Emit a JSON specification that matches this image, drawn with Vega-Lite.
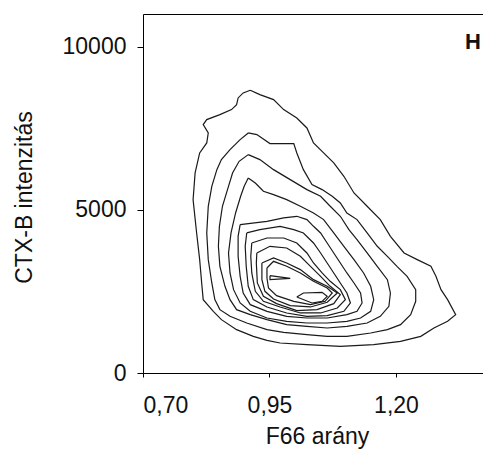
{
  "$schema": "https://vega.github.io/schema/vega-lite/v6.json",
  "width": 340,
  "height": 359,
  "autosize": {"type": "none"},
  "padding": {"left": 143, "top": 14, "right": 0, "bottom": 81},
  "background": "white",
  "config": {
    "view": {"stroke": null},
    "axis": {
      "grid": false,
      "domainColor": "#000",
      "domainWidth": 1,
      "tickColor": "#000",
      "tickWidth": 1,
      "labelColor": "#111",
      "labelFont": "Liberation Sans",
      "labelFontSize": 23,
      "titleFont": "Liberation Sans",
      "titleFontSize": 23,
      "titleFontWeight": "normal",
      "titleColor": "#111"
    }
  },
  "datasets": {
    "contours": [
      {"c":1,"i":0,"x":0.912,"y":8671},{"c":1,"i":1,"x":0.931,"y":8538},{"c":1,"i":2,"x":0.958,"y":8385},{"c":1,"i":3,"x":0.978,"y":8078},{"c":1,"i":4,"x":1.004,"y":7822},{"c":1,"i":5,"x":1.024,"y":7515},{"c":1,"i":6,"x":1.037,"y":7055},{"c":1,"i":7,"x":1.057,"y":6749},{"c":1,"i":8,"x":1.077,"y":6442},{"c":1,"i":9,"x":1.097,"y":6033},{"c":1,"i":10,"x":1.117,"y":5522},{"c":1,"i":11,"x":1.143,"y":5113},{"c":1,"i":12,"x":1.169,"y":4704},{"c":1,"i":13,"x":1.189,"y":4192},{"c":1,"i":14,"x":1.216,"y":3681},{"c":1,"i":15,"x":1.242,"y":3477},{"c":1,"i":16,"x":1.269,"y":3272},{"c":1,"i":17,"x":1.279,"y":2965},{"c":1,"i":18,"x":1.289,"y":2556},{"c":1,"i":19,"x":1.302,"y":2250},{"c":1,"i":20,"x":1.318,"y":1789},{"c":1,"i":21,"x":1.302,"y":1585},{"c":1,"i":22,"x":1.275,"y":1380},{"c":1,"i":23,"x":1.249,"y":1125},{"c":1,"i":24,"x":1.209,"y":971},{"c":1,"i":25,"x":1.156,"y":869},{"c":1,"i":26,"x":1.090,"y":818},{"c":1,"i":27,"x":1.024,"y":869},{"c":1,"i":28,"x":0.971,"y":920},{"c":1,"i":29,"x":0.945,"y":1002},{"c":1,"i":30,"x":0.918,"y":1125},{"c":1,"i":31,"x":0.885,"y":1329},{"c":1,"i":32,"x":0.855,"y":1636},{"c":1,"i":33,"x":0.839,"y":1892},{"c":1,"i":34,"x":0.819,"y":2250},{"c":1,"i":35,"x":0.816,"y":2761},{"c":1,"i":36,"x":0.812,"y":3477},{"c":1,"i":37,"x":0.806,"y":4295},{"c":1,"i":38,"x":0.799,"y":5317},{"c":1,"i":39,"x":0.803,"y":6135},{"c":1,"i":40,"x":0.812,"y":6749},{"c":1,"i":41,"x":0.826,"y":7055},{"c":1,"i":42,"x":0.829,"y":7362},{"c":1,"i":43,"x":0.819,"y":7618},{"c":1,"i":44,"x":0.826,"y":7771},{"c":1,"i":45,"x":0.852,"y":7924},{"c":1,"i":46,"x":0.875,"y":8078},{"c":1,"i":47,"x":0.885,"y":8231},{"c":1,"i":48,"x":0.888,"y":8436},{"c":1,"i":49,"x":0.898,"y":8589},{"c":1,"i":50,"x":0.912,"y":8671},
      {"c":2,"i":0,"x":0.908,"y":7362},{"c":2,"i":1,"x":0.925,"y":7311},{"c":2,"i":2,"x":0.951,"y":7035},{"c":2,"i":3,"x":0.998,"y":7035},{"c":2,"i":4,"x":1.004,"y":6749},{"c":2,"i":5,"x":1.017,"y":6237},{"c":2,"i":6,"x":1.034,"y":5777},{"c":2,"i":7,"x":1.054,"y":5624},{"c":2,"i":8,"x":1.074,"y":5419},{"c":2,"i":9,"x":1.090,"y":5215},{"c":2,"i":10,"x":1.103,"y":4908},{"c":2,"i":11,"x":1.123,"y":4704},{"c":2,"i":12,"x":1.143,"y":4295},{"c":2,"i":13,"x":1.163,"y":3886},{"c":2,"i":14,"x":1.183,"y":3579},{"c":2,"i":15,"x":1.202,"y":3272},{"c":2,"i":16,"x":1.222,"y":2965},{"c":2,"i":17,"x":1.239,"y":2556},{"c":2,"i":18,"x":1.239,"y":2198},{"c":2,"i":19,"x":1.229,"y":1789},{"c":2,"i":20,"x":1.209,"y":1483},{"c":2,"i":21,"x":1.183,"y":1329},{"c":2,"i":22,"x":1.150,"y":1227},{"c":2,"i":23,"x":1.103,"y":1125},{"c":2,"i":24,"x":1.064,"y":1125},{"c":2,"i":25,"x":1.024,"y":1176},{"c":2,"i":26,"x":0.978,"y":1247},{"c":2,"i":27,"x":0.945,"y":1329},{"c":2,"i":28,"x":0.905,"y":1534},{"c":2,"i":29,"x":0.872,"y":1738},{"c":2,"i":30,"x":0.852,"y":1943},{"c":2,"i":31,"x":0.842,"y":2250},{"c":2,"i":32,"x":0.836,"y":2761},{"c":2,"i":33,"x":0.829,"y":3477},{"c":2,"i":34,"x":0.826,"y":4295},{"c":2,"i":35,"x":0.829,"y":5113},{"c":2,"i":36,"x":0.836,"y":5726},{"c":2,"i":37,"x":0.846,"y":6237},{"c":2,"i":38,"x":0.855,"y":6544},{"c":2,"i":39,"x":0.872,"y":6851},{"c":2,"i":40,"x":0.892,"y":7158},{"c":2,"i":41,"x":0.908,"y":7362},
      {"c":3,"i":0,"x":0.908,"y":6697},{"c":3,"i":1,"x":0.931,"y":6544},{"c":3,"i":2,"x":0.958,"y":6237},{"c":3,"i":3,"x":0.991,"y":5931},{"c":3,"i":4,"x":1.024,"y":5624},{"c":3,"i":5,"x":1.051,"y":5419},{"c":3,"i":6,"x":1.070,"y":5113},{"c":3,"i":7,"x":1.090,"y":4806},{"c":3,"i":8,"x":1.107,"y":4397},{"c":3,"i":9,"x":1.123,"y":4090},{"c":3,"i":10,"x":1.143,"y":3681},{"c":3,"i":11,"x":1.163,"y":3272},{"c":3,"i":12,"x":1.183,"y":2863},{"c":3,"i":13,"x":1.189,"y":2454},{"c":3,"i":14,"x":1.186,"y":2045},{"c":3,"i":15,"x":1.169,"y":1738},{"c":3,"i":16,"x":1.143,"y":1534},{"c":3,"i":17,"x":1.103,"y":1432},{"c":3,"i":18,"x":1.064,"y":1380},{"c":3,"i":19,"x":1.024,"y":1432},{"c":3,"i":20,"x":0.984,"y":1483},{"c":3,"i":21,"x":0.945,"y":1636},{"c":3,"i":22,"x":0.912,"y":1789},{"c":3,"i":23,"x":0.885,"y":1943},{"c":3,"i":24,"x":0.872,"y":2250},{"c":3,"i":25,"x":0.862,"y":2659},{"c":3,"i":26,"x":0.852,"y":3272},{"c":3,"i":27,"x":0.849,"y":3886},{"c":3,"i":28,"x":0.851,"y":4499},{"c":3,"i":29,"x":0.857,"y":5113},{"c":3,"i":30,"x":0.867,"y":5624},{"c":3,"i":31,"x":0.877,"y":6135},{"c":3,"i":32,"x":0.890,"y":6493},{"c":3,"i":33,"x":0.908,"y":6697},
      {"c":4,"i":0,"x":0.908,"y":5982},{"c":4,"i":1,"x":0.922,"y":5828},{"c":4,"i":2,"x":0.938,"y":5573},{"c":4,"i":3,"x":0.958,"y":5470},{"c":4,"i":4,"x":0.984,"y":5317},{"c":4,"i":5,"x":1.011,"y":5113},{"c":4,"i":6,"x":1.037,"y":4908},{"c":4,"i":7,"x":1.057,"y":4704},{"c":4,"i":8,"x":1.077,"y":4295},{"c":4,"i":9,"x":1.097,"y":3886},{"c":4,"i":10,"x":1.117,"y":3477},{"c":4,"i":11,"x":1.136,"y":3068},{"c":4,"i":12,"x":1.150,"y":2659},{"c":4,"i":13,"x":1.156,"y":2250},{"c":4,"i":14,"x":1.150,"y":1892},{"c":4,"i":15,"x":1.130,"y":1687},{"c":4,"i":16,"x":1.103,"y":1585},{"c":4,"i":17,"x":1.064,"y":1534},{"c":4,"i":18,"x":1.024,"y":1534},{"c":4,"i":19,"x":0.984,"y":1585},{"c":4,"i":20,"x":0.945,"y":1687},{"c":4,"i":21,"x":0.912,"y":1892},{"c":4,"i":22,"x":0.892,"y":2147},{"c":4,"i":23,"x":0.879,"y":2556},{"c":4,"i":24,"x":0.872,"y":3068},{"c":4,"i":25,"x":0.869,"y":3681},{"c":4,"i":26,"x":0.874,"y":4295},{"c":4,"i":27,"x":0.883,"y":4908},{"c":4,"i":28,"x":0.893,"y":5419},{"c":4,"i":29,"x":0.900,"y":5726},{"c":4,"i":30,"x":0.908,"y":5982},
      {"c":5,"i":0,"x":0.892,"y":4550},{"c":5,"i":1,"x":0.945,"y":4652},{"c":5,"i":2,"x":0.978,"y":4755},{"c":5,"i":3,"x":1.004,"y":4806},{"c":5,"i":4,"x":1.024,"y":4704},{"c":5,"i":5,"x":1.037,"y":4499},{"c":5,"i":6,"x":1.051,"y":4295},{"c":5,"i":7,"x":1.064,"y":3988},{"c":5,"i":8,"x":1.077,"y":3681},{"c":5,"i":9,"x":1.090,"y":3374},{"c":5,"i":10,"x":1.103,"y":3068},{"c":5,"i":11,"x":1.117,"y":2761},{"c":5,"i":12,"x":1.130,"y":2454},{"c":5,"i":13,"x":1.133,"y":2147},{"c":5,"i":14,"x":1.123,"y":1892},{"c":5,"i":15,"x":1.103,"y":1789},{"c":5,"i":16,"x":1.064,"y":1687},{"c":5,"i":17,"x":1.024,"y":1687},{"c":5,"i":18,"x":0.984,"y":1738},{"c":5,"i":19,"x":0.945,"y":1892},{"c":5,"i":20,"x":0.912,"y":2096},{"c":5,"i":21,"x":0.898,"y":2454},{"c":5,"i":22,"x":0.892,"y":2965},{"c":5,"i":23,"x":0.888,"y":3579},{"c":5,"i":24,"x":0.888,"y":4192},{"c":5,"i":25,"x":0.892,"y":4550},
      {"c":6,"i":0,"x":0.905,"y":4295},{"c":6,"i":1,"x":0.931,"y":4397},{"c":6,"i":2,"x":0.971,"y":4499},{"c":6,"i":3,"x":0.998,"y":4397},{"c":6,"i":4,"x":1.017,"y":4295},{"c":6,"i":5,"x":1.037,"y":3988},{"c":6,"i":6,"x":1.051,"y":3681},{"c":6,"i":7,"x":1.064,"y":3374},{"c":6,"i":8,"x":1.077,"y":3068},{"c":6,"i":9,"x":1.090,"y":2761},{"c":6,"i":10,"x":1.103,"y":2454},{"c":6,"i":11,"x":1.110,"y":2147},{"c":6,"i":12,"x":1.097,"y":1892},{"c":6,"i":13,"x":1.064,"y":1759},{"c":6,"i":14,"x":1.024,"y":1738},{"c":6,"i":15,"x":0.984,"y":1841},{"c":6,"i":16,"x":0.945,"y":2025},{"c":6,"i":17,"x":0.918,"y":2250},{"c":6,"i":18,"x":0.908,"y":2659},{"c":6,"i":19,"x":0.904,"y":3272},{"c":6,"i":20,"x":0.902,"y":3886},{"c":6,"i":21,"x":0.905,"y":4295},
      {"c":7,"i":0,"x":0.915,"y":3988},{"c":7,"i":1,"x":0.945,"y":4141},{"c":7,"i":2,"x":0.978,"y":4141},{"c":7,"i":3,"x":1.004,"y":3988},{"c":7,"i":4,"x":1.024,"y":3681},{"c":7,"i":5,"x":1.037,"y":3374},{"c":7,"i":6,"x":1.054,"y":3068},{"c":7,"i":7,"x":1.070,"y":2812},{"c":7,"i":8,"x":1.090,"y":2556},{"c":7,"i":9,"x":1.100,"y":2250},{"c":7,"i":10,"x":1.084,"y":1994},{"c":7,"i":11,"x":1.051,"y":1841},{"c":7,"i":12,"x":1.011,"y":1841},{"c":7,"i":13,"x":0.971,"y":2025},{"c":7,"i":14,"x":0.938,"y":2198},{"c":7,"i":15,"x":0.922,"y":2505},{"c":7,"i":16,"x":0.915,"y":3068},{"c":7,"i":17,"x":0.913,"y":3579},{"c":7,"i":18,"x":0.915,"y":3988},
      {"c":8,"i":0,"x":0.925,"y":3681},{"c":8,"i":1,"x":0.951,"y":3886},{"c":8,"i":2,"x":0.984,"y":3834},{"c":8,"i":3,"x":1.011,"y":3579},{"c":8,"i":4,"x":1.031,"y":3272},{"c":8,"i":5,"x":1.051,"y":2965},{"c":8,"i":6,"x":1.070,"y":2659},{"c":8,"i":7,"x":1.090,"y":2403},{"c":8,"i":8,"x":1.077,"y":2127},{"c":8,"i":9,"x":1.044,"y":1943},{"c":8,"i":10,"x":1.004,"y":1912},{"c":8,"i":11,"x":0.964,"y":2127},{"c":8,"i":12,"x":0.938,"y":2352},{"c":8,"i":13,"x":0.926,"y":2761},{"c":8,"i":14,"x":0.924,"y":3374},{"c":8,"i":15,"x":0.925,"y":3681},
      {"c":9,"i":0,"x":0.935,"y":3374},{"c":9,"i":1,"x":0.958,"y":3528},{"c":9,"i":2,"x":0.984,"y":3374},{"c":9,"i":3,"x":1.011,"y":3170},{"c":9,"i":4,"x":1.037,"y":2863},{"c":9,"i":5,"x":1.064,"y":2659},{"c":9,"i":6,"x":1.084,"y":2454},{"c":9,"i":7,"x":1.064,"y":2168},{"c":9,"i":8,"x":1.031,"y":2025},{"c":9,"i":9,"x":0.991,"y":2065},{"c":9,"i":10,"x":0.958,"y":2270},{"c":9,"i":11,"x":0.941,"y":2505},{"c":9,"i":12,"x":0.935,"y":2863},{"c":9,"i":13,"x":0.935,"y":3374},
      {"c":10,"i":0,"x":0.945,"y":3221},{"c":10,"i":1,"x":0.958,"y":3425},{"c":10,"i":2,"x":0.984,"y":3272},{"c":10,"i":3,"x":1.011,"y":3068},{"c":10,"i":4,"x":1.037,"y":2812},{"c":10,"i":5,"x":1.064,"y":2607},{"c":10,"i":6,"x":1.074,"y":2454},{"c":10,"i":7,"x":1.060,"y":2198},{"c":10,"i":8,"x":1.031,"y":2096},{"c":10,"i":9,"x":0.998,"y":2198},{"c":10,"i":10,"x":0.964,"y":2372},{"c":10,"i":11,"x":0.948,"y":2607},{"c":10,"i":12,"x":0.945,"y":2914},{"c":10,"i":13,"x":0.945,"y":3221},
      {"c":11,"i":0,"x":0.951,"y":2986},{"c":11,"i":1,"x":0.991,"y":2904},{"c":11,"i":2,"x":0.951,"y":2863},{"c":11,"i":3,"x":0.951,"y":2986},
      {"c":12,"i":0,"x":1.004,"y":2331},{"c":12,"i":1,"x":1.017,"y":2454},{"c":12,"i":2,"x":1.054,"y":2474},{"c":12,"i":3,"x":1.064,"y":2352},{"c":12,"i":4,"x":1.054,"y":2198},{"c":12,"i":5,"x":1.034,"y":2147},{"c":12,"i":6,"x":1.004,"y":2331}
    ],
    "panel": [{"label": "H", "x": 1.352, "y": 9950}]
  },
  "encoding": {
    "y": {
      "field": "y",
      "type": "quantitative",
      "scale": {"domain": [0, 11010], "nice": false, "zero": false},
      "axis": {
        "title": "CTX-B intenzitás",
        "values": [0, 5000, 10000],
        "format": "d",
        "tickSize": 6,
        "labelPadding": 11,
        "titleAngle": -90,
        "titleAlign": "center",
        "titleBaseline": "bottom",
        "titleX": -107,
        "titleY": 183
      }
    }
  },
  "layer": [
    {
      "data": {"name": "contours"},
      "mark": {"type": "line", "stroke": "#1a1a1a", "strokeWidth": 1.2, "interpolate": "linear"},
      "encoding": {
        "x": {
          "field": "x",
          "type": "quantitative",
          "scale": {"domain": [0.7, 1.372], "nice": false, "zero": false},
          "axis": {
            "title": "F66 arány",
            "values": [0.7, 0.95, 1.2],
            "labelExpr": "replace(format(datum.value, '.2f'), '.', ',')",
            "tickSize": 4,
            "labelBaseline": "alphabetic",
            "labelPadding": 35,
            "titleX": 174,
            "titleY": 70,
            "titleAlign": "center",
            "titleBaseline": "alphabetic"
          }
        },
        "detail": {"field": "c", "type": "nominal"},
        "order": {"field": "i", "type": "quantitative"}
      }
    },
    {
      "data": {"name": "panel"},
      "mark": {"type": "text", "font": "Liberation Sans", "fontSize": 22, "fontWeight": "bold", "align": "center", "baseline": "alphabetic", "color": "#111"},
      "encoding": {
        "x": {
          "field": "x",
          "type": "quantitative",
          "axis": {"orient": "top", "labels": false, "ticks": false, "title": null, "domain": true, "grid": false}
        },
        "text": {"field": "label"}
      }
    }
  ],
  "resolve": {"axis": {"x": "independent"}}
}
